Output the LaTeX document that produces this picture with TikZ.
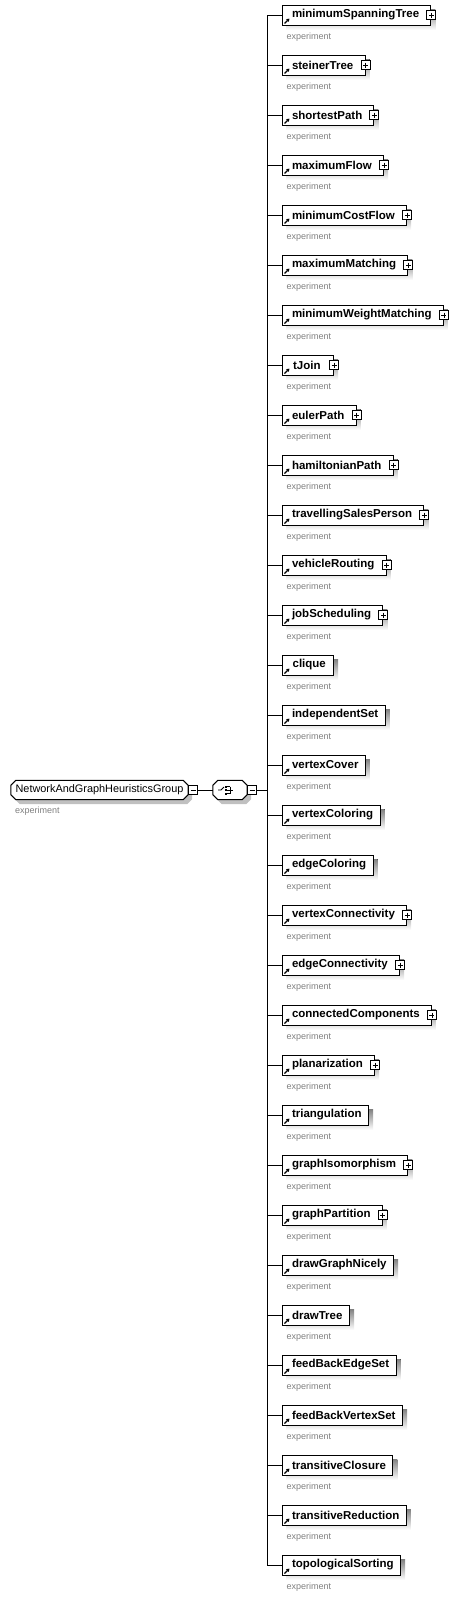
\documentclass[tikz,border=0pt]{standalone}
\usepackage{fontspec}
\setmainfont{Liberation Sans}
\usetikzlibrary{calc,arrows.meta}
\pgfdeclarelayer{bg}
\pgfsetlayers{bg,main}
\definecolor{shade}{RGB}{192,192,192}
\definecolor{notegray}{RGB}{128,128,128}
\newcommand\chamfer[5]{%
 \path[#5] ($(#1.north west)+(#3+#2,#4)$) -- ($(#1.north east)+(#3-#2,#4)$) -- ($(#1.north east)+(#3,#4+#2)$) -- ($(#1.south east)+(#3,#4-#2)$) -- ($(#1.south east)+(#3-#2,#4)$) -- ($(#1.south west)+(#3+#2,#4)$) -- ($(#1.south west)+(#3,#4-#2)$) -- ($(#1.north west)+(#3,#4+#2)$) -- cycle;}
\begin{document}
\begin{tikzpicture}[x=1pt,y=-1pt,
  elembox/.style={draw=black, line width=1pt, fill=white, inner xsep=0pt, inner ysep=0pt,
    minimum height=20pt, minimum width=51pt, anchor=west,
    font=\fontsize{11.5}{12}\selectfont\bfseries},
  signbox/.style={draw=black, line width=1pt, fill=white, minimum size=9pt, inner sep=0pt},
  notetext/.style={text=notegray, font=\fontsize{9}{10}\selectfont, anchor=west, inner sep=0pt},
  wire/.style={line width=1pt, draw=black},
  plain/.style={draw=none, inner sep=0pt},
]
\useasboundingbox (0,0) rectangle (458,1598);

% group node
\node[plain, minimum width=177pt, minimum height=19pt, font=\fontsize{10.9}{12}\selectfont] (grp) at (99.5,790) {NetworkAndGraphHeuristicsGroup};
\begin{pgfonlayer}{bg}
\chamfer{grp}{5}{4}{4.5}{fill=shade}
\chamfer{grp}{5}{0}{0}{fill=white, draw=black, line width=1pt}
\end{pgfonlayer}
\node[notetext] (gnote) at (15,811) {experiment};
\node[signbox, anchor=west] (gm) at (grp.east) {};
\draw[line width=0.8pt] ($(gm.center)+(-2.5,0)$) -- ($(gm.center)+(2.5,0)$);

% sequence compositor
\node[plain, minimum width=34pt, minimum height=19pt] (seq) at (230,790) {};
\begin{pgfonlayer}{bg}
\chamfer{seq}{5}{4}{4.5}{fill=shade}
\chamfer{seq}{5}{0}{0}{fill=white, draw=black, line width=1pt}
\end{pgfonlayer}
\draw[line width=0.9pt] ($(seq.center)+(-12,0)$) -- ($(seq.center)+(-9,0)$) -- ($(seq.center)+(-6,-3)$);
\foreach \dy in {-3.5,0,3.5}{
  \fill ($(seq.center)+(-5.5,\dy-1)$) rectangle ($(seq.center)+(-3.5,\dy+1)$);
  \draw[line width=0.8pt] ($(seq.center)+(-3,\dy)$) -- ($(seq.center)+(0,\dy)$);
}
\draw[line width=0.8pt] ($(seq.center)+(0,-3.5)$) -- ($(seq.center)+(0,3.5)$);
\draw[line width=0.8pt] ($(seq.center)+(0,0)$) -- ($(seq.center)+(3,0)$);
\node[signbox, anchor=west] (sm) at (seq.east) {};
\draw[line width=0.8pt] ($(sm.center)+(-2.5,0)$) -- ($(sm.center)+(2.5,0)$);

\draw[wire] (gm.east) -- (seq.west);
\coordinate (bus) at (267,790);
\draw[wire] (sm.east) -- (bus);

\foreach \n/\p [count=\i from 0] in {minimumSpanningTree/1, steinerTree/1, shortestPath/1, maximumFlow/1, minimumCostFlow/1, maximumMatching/1, minimumWeightMatching/1, tJoin/1, eulerPath/1, hamiltonianPath/1, travellingSalesPerson/1, vehicleRouting/1, jobScheduling/1, clique/0, independentSet/0, vertexCover/0, vertexColoring/0, edgeColoring/0, vertexConnectivity/1, edgeConnectivity/1, connectedComponents/1, planarization/1, triangulation/0, graphIsomorphism/1, graphPartition/1, drawGraphNicely/0, drawTree/0, feedBackEdgeSet/0, feedBackVertexSet/0, transitiveClosure/0, transitiveReduction/0, topologicalSorting/0}{
  \pgfmathsetmacro\yy{15+50*\i}
  \ifnum\p=1 \def\pad{11.7pt}\else\def\pad{7pt}\fi
  \node[elembox] (b\i) at (282,\yy) {\hspace*{9.5pt}\n\hspace*{\pad}};
  \begin{pgfonlayer}{bg}
    \fill[shade] ($(b\i.north west)+(4,4.5)$) rectangle ($(b\i.south east)+(4,4.5)$);
  \end{pgfonlayer}
  \draw[line width=1.1pt, -{Triangle[length=3pt,width=3.5pt]}] ($(b\i.south west)+(2.5,-2)$) -- ($(b\i.south west)+(7.5,-7)$);
  \ifnum\p=1
    \node[signbox] (p\i) at (b\i.east) {};
    \draw[line width=0.8pt] ($(p\i.center)+(-2.5,0)$) -- ($(p\i.center)+(2.5,0)$);
    \draw[line width=0.8pt] ($(p\i.center)+(0,-2.5)$) -- ($(p\i.center)+(0,2.5)$);
  \fi
  \node[notetext] (n\i) at (286.5,\yy+22.5) {experiment};
  \draw[wire] (bus) |- (b\i.west);
}
\end{tikzpicture}
\end{document}
